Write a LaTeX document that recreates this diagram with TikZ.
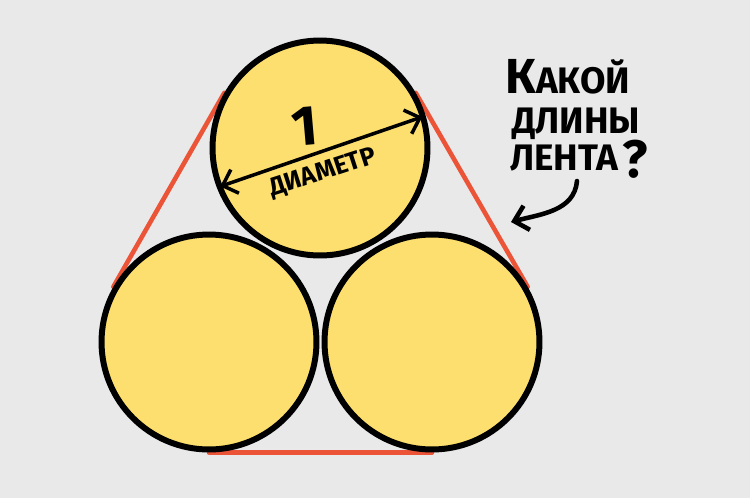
\documentclass[tikz,border=0pt]{standalone}
\usepackage{fontspec}
\setmainfont{Fira Sans}
\usetikzlibrary{arrows.meta,backgrounds}
\definecolor{paper}{RGB}{233,233,234}
\definecolor{coin}{RGB}{252,223,110}
\definecolor{tape}{RGB}{236,84,56}
\tikzset{
  coin/.style={circle, draw=black, fill=coin, line width=3.4pt, minimum size=4.3cm, inner sep=0pt},
  tape/.style={draw=tape, line width=2.6pt, line cap=round},
  barb/.style={Straight Barb[length=2.6mm,width=5mm]},
  hand/.style={line width=2pt, line cap=round, -{Straight Barb[length=2.6mm,width=5mm]}},
  words/.style={font=\bfseries\fontsize{21}{21}\selectfont, inner sep=0pt, anchor=base west},
}

\begin{document}
\begin{tikzpicture}[x=0.02cm, y=-0.02cm]
		%%%%% START %%%%%
		\useasboundingbox (0,0) rectangle (750,498);
		
		% the three coins
		\node[coin] (top) at (320,148) {};
		\node[coin] (bl) at (209,342) {};
		\node[coin] (br) at (432,342) {};
		
		% tape round them, under the coins
		\begin{pgfonlayer}{background}
		\fill[paper] (0,0) rectangle (750,498);
		\draw[tape] (top.150) -- (bl.150);
		\draw[tape] (bl.270) -- (br.270);
		\draw[tape] (br.30) -- (top.30);
		\end{pgfonlayer}
		
		% diameter
		\draw[hand, {Straight Barb[length=2.6mm,width=5mm]}-{Straight Barb[length=2.6mm,width=5mm]}, shorten <=2pt, shorten >=2pt] (top.201) -- (top.17);
		\node[font=\bfseries\fontsize{32}{32}\selectfont, rotate=5, inner sep=0pt] (one) at (305,126) {1};
		\node[font=\bfseries\fontsize{14.5}{14.5}\selectfont, rotate=18, inner sep=0pt] (dia) at (323,173) {ДИАМЕТР};
		
		% question
		\node[words] (q1) at (505,93) {{\fontsize{28}{28}\selectfont К}АКОЙ};
		\node[words] (q2) at (512,133) {ДЛИНЫ};
		\node[words] (q3) at (510,170) {ЛЕНТА};
		\node[font=\bfseries\fontsize{30}{30}\selectfont] (qm) at (635,159) {?};
		
		\coordinate (from) at (577,181);
		\coordinate (to) at (511,222);
		\draw[hand, line width=2.6pt] (from) to[out=-95, in=15] (to);
		%%%%% END %%%%%
	\end{tikzpicture}
\end{document}
